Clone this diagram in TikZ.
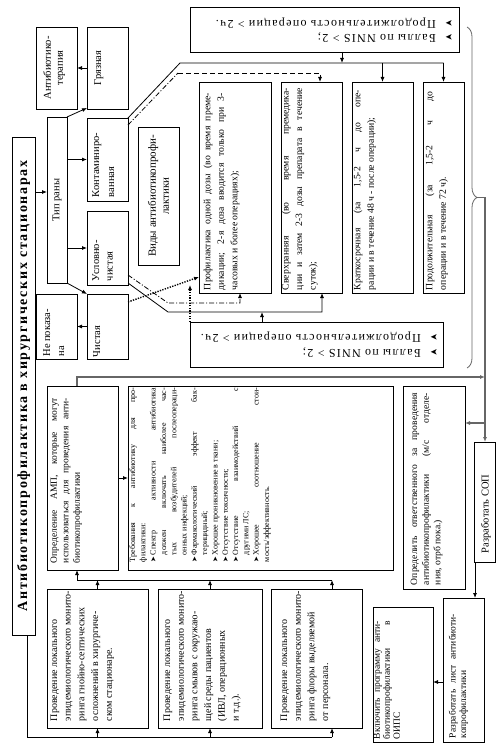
\documentclass[tikz,border=0pt]{standalone}
\usepackage{fontspec}
\setmainfont{Liberation Serif}
\newfontfamily\symf{DejaVu Sans}
\newfontfamily\titlef[LetterSpace=12]{Liberation Serif}
\newfontfamily\lsC[LetterSpace=11]{Liberation Serif}
\usetikzlibrary{arrows.meta,decorations.pathreplacing,calc}
\setlength{\parindent}{0pt}
\newcommand\myfs[2]{\fontsize{#1}{#2}\selectfont}
\newcommand\mybox[5]{\node[bx, minimum width={(#4)-(#2)}, minimum height={(#5)-(#3)}] (#1) at ({((#2)+(#4))/2},{((#3)+(#5))/2}) {};}
\newcommand\bul{\makebox[7pt][l]{\symf\myfs{7}{7}➤}}
\newcommand\nbul{\makebox[17pt][l]{\symf\myfs{9}{9}➤}}
\begin{document}
\begin{tikzpicture}[x=1pt,y=-1pt,
  bx/.style={draw, line width=0.8pt, inner sep=0pt, outer sep=0pt},
  rt/.style={rotate=90, inner sep=0pt, outer sep=0pt},
  tp/.style={-{Latex[length=5pt,width=4pt]}},
  arr/.style={line width=0.8pt, tp},
  ln/.style={line width=0.8pt},
  dd/.style={line width=0.8pt, dash pattern=on 5pt off 2pt on 1pt off 2pt},
  dsh/.style={line width=0.8pt, dash pattern=on 5pt off 3pt},
  dt/.style={line width=1.4pt, dash pattern=on 1.3pt off 1.3pt},
  gl/.style={line width=1.4pt, draw=black!60},
  sm/.style={font=\myfs{10.5}{13.5}},
  big/.style={font=\myfs{9.7}{13.5}},
  mon/.style={rt, anchor=north west, align=left, font=\myfs{10}{13.7}}]
\fill[white] (0,0) rectangle (500,751);
\useasboundingbox (0,0) rectangle (500,751);

% boxes
\mybox{title}{12}{137}{35}{635}
\mybox{tip}{47}{117}{67}{283}
\mybox{abt}{36}{27}{77}{109}
\mybox{gryaz}{87}{27}{128}{109}
\mybox{kont}{87}{118}{128}{201}
\mybox{uch}{87}{211}{128}{285}
\mybox{chist}{87}{294}{128}{359}
\mybox{nepok}{36}{294}{77}{359}
\mybox{vidy}{138}{127}{179}{265}
\mybox{nnisA}{190}{7}{459}{52}
\mybox{nnisB}{190}{322}{443}{367}
\mybox{prof}{199}{82}{271}{293}
\mybox{sver}{281}{82}{342}{293}
\mybox{krat}{352}{82}{413}{293}
\mybox{prod}{423}{82}{464}{293}
\mybox{opr}{47}{386}{118}{570}
\mybox{treb}{128}{386}{393}{570}
\mybox{otv}{403}{386}{465}{589}
\mybox{sop}{474}{442}{495}{562}
\mybox{list}{443}{598}{484}{742}
\mybox{vkl}{373}{607}{433}{742}
\mybox{m1}{47}{589}{148}{728}
\mybox{m2}{158}{589}{262}{728}
\mybox{m3}{271}{589}{362}{728}

% texts
\node[rt, font=\titlef\bfseries\myfs{14}{16}] at (title.center) {Антибиотикопрофилактика в хирургических стационарах};
\node[rt, sm] at (tip.center) {Тип раны};
\node[rt, anchor=north, align=center, font=\myfs{10.5}{12}] at ($(abt.west)+(7.3,0)$) {Антибиотико-\\терапия};
\node[rt, sm, anchor=north] at ($(gryaz.west)+(7.3,0)$) {Грязная};
\node[rt, anchor=north west, align=left, font=\myfs{10.5}{15}] at ($(kont.south west)+(5.3,-4)$) {Контаминиро-\\ванная};
\node[rt, anchor=north west, align=left, font=\myfs{10.5}{13.5}] at ($(uch.south west)+(5.3,-4)$) {Условно-\\чистая};
\node[rt, sm, anchor=north west] at ($(chist.south west)+(6.3,-2)$) {Чистая};
\node[rt, anchor=north west, align=left, font=\myfs{10.5}{14}] at ($(nepok.south west)+(7.3,-2.5)$) {Не показа-\\на};
\node[rt, anchor=north, align=center, font=\myfs{11}{13}] at ($(vidy.west)+(10,0)$) {Виды антибиотикопрофи-\\лактики};

\node[rt, big, anchor=north west, text width=197pt, align=justify] at ($(prof.south west)+(4.6,-3)$) {Профилактика одной дозы (во время преме-\linebreak дикации; 2-я доза вводится только при 3-\linebreak часовых и более операциях);};
\node[rt, big, anchor=north west, text width=202pt, align=justify] at ($(sver.south west)+(0.8,-3)$) {Сверхранняя (во время премедика-\linebreak ции и затем 2-3 дозы препарата в течение\linebreak суток);};
\node[rt, big, anchor=north west, text width=200pt, align=justify] at ($(krat.south west)+(1.6,-3)$) {Краткосрочная (за 1,5-2 ч до опе-\linebreak рации и в течение 48 ч - после операции);};
\node[rt, big, anchor=north west, text width=198pt, align=justify] at ($(prod.south west)+(2.6,-3)$) {Продолжительная (за 1,5-2 ч до\linebreak операции и в течение 72 ч).};

\node[rotate=180, inner sep=0pt, anchor=north west, align=left, font=\lsC\myfs{12}{14.5}] at ($(nnisA.south east)+(-6,-9)$) {\nbul Баллы по NNIS > 2;\\\nbul Продолжительность операции > 2ч.};
\node[rotate=180, inner sep=0pt, anchor=north west, align=left, font=\lsC\myfs{12}{14.5}] at ($(nnisB.south east)+(-5,-9.5)$) {\nbul Баллы по NNIS > 2;\\\nbul Продолжительность операции > 2ч.};

\node[rt, anchor=north west, text width=174pt, align=justify, font=\myfs{8}{10.3}] at ($(treb.south west)+(1.4,-8)$) {Требования к антибиотику для про-\linebreak филактики:\par
\hangindent=7pt\hangafter=1 \bul Спектр активности антибиотика\linebreak должен включать наиболее час-\linebreak тых возбудителей послеопераци-\linebreak онных инфекций;\par
\hangindent=7pt\hangafter=1 \bul Фармакологический эффект бак-\linebreak терицидный;\par
\hangindent=7pt\hangafter=1 \bul Хорошее проникновение в ткани;\par
\hangindent=7pt\hangafter=1 \bul Отсутствие токсичности;\par
\hangindent=7pt\hangafter=1 \bul Отсутствие взаимодействий с\linebreak другими ЛС;\par
\hangindent=7pt\hangafter=1 \bul Хорошее соотношение стои-\linebreak мость/эффективность.};

\node[rt, anchor=north west, text width=165pt, align=justify, font=\myfs{9.5}{11.5}] at ($(opr.south west)+(3.7,-7)$) {Определение АМП, которые могут\linebreak использоваться для проведения анти-\linebreak биотикопрофилактики};
\node[rt, anchor=north west, text width=192pt, align=justify, font=\myfs{9.6}{11.7}] at ($(otv.south west)+(7.7,-4)$) {Определить ответственного за проведения\linebreak антибиотикопрофилактики (м/с отделе-\linebreak ния, отрб пока.)};
\node[rt, sm, anchor=west] at ($(sop.south)+(1.5,-9)$) {Разработать СОП};
\node[rt, anchor=north west, text width=124pt, align=justify, font=\myfs{9.5}{10.7}] at ($(list.south west)+(5.7,-4)$) {Разработать лист антибиоти-\linebreak копрофилактики};
\node[rt, anchor=north west, text width=118pt, align=justify, font=\myfs{9.5}{10}] at ($(vkl.south west)+(0.7,-3)$) {Включить программу анти-\linebreak биотикопрофилактики в\linebreak ОИПС};

\node[mon] at ($(m1.south west)+(3.5,-7)$) {Проведение локального\\эпидемиологического монито-\\ринга гнойно-септических\\осложнений в хирургиче-\\ском стационаре.};
\node[mon] at ($(m2.south west)+(5.5,-7)$) {Проведение локального\\эпидемиологического монито-\\ринга смывов с окружаю-\\щей среды пациентов\\(ИВЛ, операционных\\и т.д.).};
\node[mon] at ($(m3.south west)+(9.5,-7)$) {Проведение локального\\эпидемиологического монито-\\ринга флоры выделяемой\\от персонала.};

% connectors: wound types
\coordinate (tipin) at ($(tip.west)+(0,-8)$);
\draw[arr] (title.east |- tipin) -- (tipin);
\draw[arr] (tip.north east) -- ($(gryaz.south west)+(0,-1)$);
\draw[arr] (tip.east |- kont.west) -- (kont.west);
\draw[arr] (tip.east |- uch.west) -- (uch.west);
\draw[arr] (tip.south east) -- (chist.north west);
\draw[arr] (gryaz.west) -- (abt.east);
\draw[arr] (chist.west) -- (nepok.east);

% contaminated
\coordinate (ks) at (180,63);
\draw[ln] (kont.north east) -- (ks) -- (ks -| prod.north);
\draw[arr] (ks -| krat.north) -- (krat.north);
\draw[arr] (ks -| prod.north) -- (prod.north);
\coordinate (na) at ($(nnisA.south west)+(152,0)$);
\draw[arr] (na) -- (na |- ks);
\coordinate (kd) at (178,73);
\coordinate (kd2) at ($(sver.north)+(8.5,0)$);
\draw[dd] ($(kont.north east)+(0,7)$) -- (kd);
\draw[dsh, tp] (kd) -- (kd -| kd2) -- (kd2);

% conditionally clean
\coordinate (ud) at (168,303);
\coordinate (ud2) at ($(prof.south)+(5,0)$);
\draw[dd, tp] ($(uch.south east)+(0,-10)$) -- (ud) -- (ud -| ud2) -- (ud2);
\coordinate (us) at (168,312);
\coordinate (us2) at ($(sver.south)+(10.5,0)$);
\draw[ln, tp] ($(uch.south east)+(0,-2)$) -- (us) -- (us -| us2) -- (us2);
\coordinate (nb) at ($(nnisB.north west)+(72,0)$);
\draw[arr] (nb) -- (nb |- us);

% clean
\draw[dt, tp] ($(chist.north east)+(0,8)$) -- ($(prof.south west)+(0,-16)$);
\coordinate (dv) at (190,285);
\draw[dt, tp] (nnisB.north west) -- (dv);

% brace and right side
\coordinate (br1) at (467,27);
\coordinate (br2) at (467,368);
\draw[decorate, decoration={brace, amplitude=10pt}, line width=0.8pt, draw=black!60] (br1) -- (br2);
\coordinate (brt) at (477,197.5);
\coordinate (vx) at ($(sop.north)+(0.5,0)$);
\draw[gl, tp] (brt) -- (brt -| vx) -- (vx);
\coordinate (g1) at ($(opr.north west)+(30,0)$);
\coordinate (g2) at (77,377);
\draw[gl, tp] (g1) -- (g2) -- (g2 -| vx);
\coordinate (ov) at ($(otv.north east)+(0,37)$);
\draw[gl, tp] (ov -| vx) -- (ov);
\coordinate (sl) at ($(sop.south west)+(1,0)$);
\draw[arr] (sl) -- (sl |- list.north);
\coordinate (lv) at ($(list.west)+(0,12)$);
\draw[arr] (lv) -- (lv -| vkl.east);
\draw[arr] (opr.east) -- (treb.west);

% monitoring
\coordinate (b0) at ($(title.south)+(3.5,0)$);
\coordinate (b1) at (27,737);
\coordinate (m3x) at ($(m3.south)+(15.5,0)$);
\draw[ln] (b0) -- (b1) -- (b1 -| m3x);
\draw[arr] (b1 -| m1.south) -- (m1.south);
\draw[arr] (b1 -| m2.south) -- (m2.south);
\draw[arr] (b1 -| m3x) -- (m3x);
\coordinate (t0) at ($(opr.south west)+(30,10)$);
\coordinate (m3t) at ($(m3.north)+(15.5,0)$);
\draw[ln] (t0) -- (t0 -| m3t);
\draw[arr] (m1.north) -- (m1.north |- t0);
\draw[arr] (m2.north) -- (m2.north |- t0);
\draw[arr] (m3t) -- (m3t |- t0);
\draw[arr] (t0) -- (t0 |- opr.south);
\end{tikzpicture}
\end{document}
